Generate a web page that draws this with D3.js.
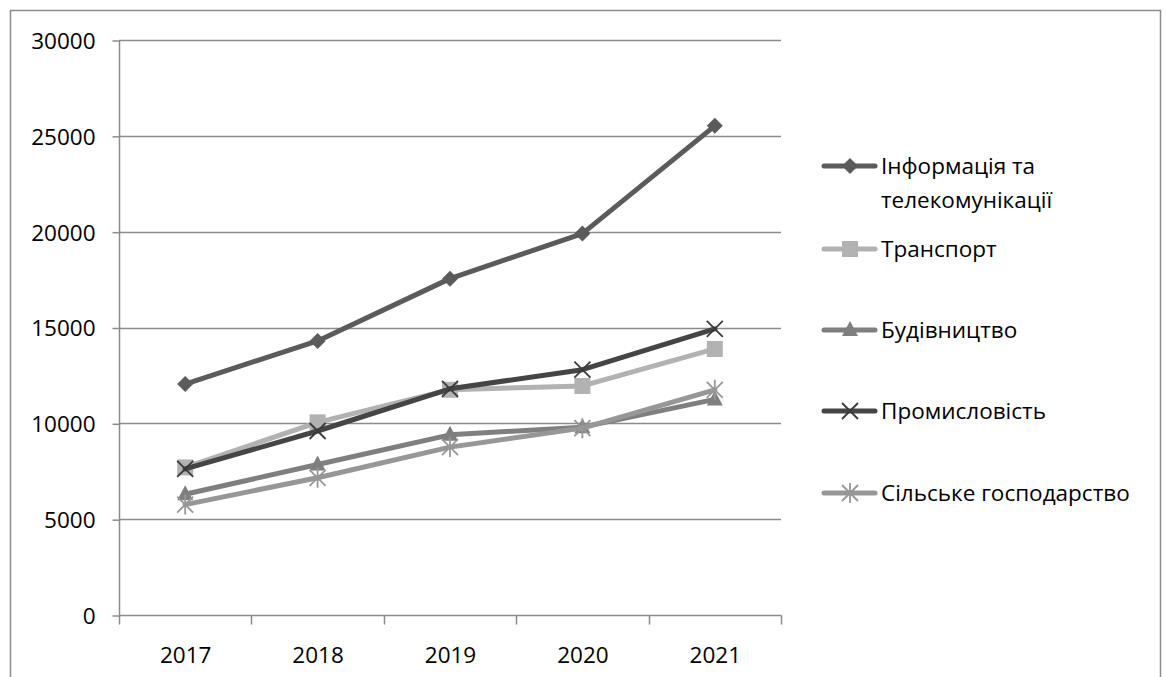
<!DOCTYPE html>
<html>
<head>
<meta charset="utf-8">
<script src="https://cdn.jsdelivr.net/npm/d3@7"></script>
<style>
  html, body { margin: 0; padding: 0; background: #fff; }
  svg { display: block; }
  text { font-family: "Open Sans", "Liberation Sans", sans-serif; fill: #000; }
</style>
</head>
<body>
<svg id="chart" width="1166" height="677"></svg>
<script>
// Years on the category axis
const years = ["2017", "2018", "2019", "2020", "2021"];

// Series values by year
const infoTelecom = [12050, 14300, 17550, 19900, 25520];
const transport   = [7700, 10050, 11750, 11950, 13880];
const construction = [6300, 7850, 9400, 9800, 11250];
const industry    = [7620, 9600, 11800, 12800, 14930];
const agriculture = [5760, 7160, 8760, 9750, 11750];

// Series names shown in the legend
const seriesNames = [
  ["Інформація та", "телекомунікації"],
  ["Транспорт"],
  ["Будівництво"],
  ["Промисловість"],
  ["Сільське господарство"]
];

// Y axis tick labels
const yTicks = [0, 5000, 10000, 15000, 20000, 25000, 30000];

const series = [
  { name: seriesNames[0], values: infoTelecom,  color: "#5b5b5b", marker: "diamond" },
  { name: seriesNames[1], values: transport,    color: "#b2b2b2", marker: "square" },
  { name: seriesNames[2], values: construction, color: "#7f7f7f", marker: "triangle" },
  { name: seriesNames[3], values: industry,     color: "#454545", marker: "x" },
  { name: seriesNames[4], values: agriculture,  color: "#979797", marker: "star" }
];

const fontSize = "22.5px";
const svg = d3.select("#chart");

// Outer chart frame
svg.append("rect")
  .attr("x", 10.5).attr("y", 10.5)
  .attr("width", 1150).attr("height", 700)
  .attr("fill", "none").attr("stroke", "#8c8c8c").attr("stroke-width", 1.5);

const plot = { left: 119, top: 40, right: 781, bottom: 615 };

const x = d3.scaleBand().domain(years).range([plot.left, plot.right]);
const y = d3.scaleLinear().domain([0, 30000]).range([plot.bottom, plot.top]);

// Horizontal gridlines
svg.append("g")
  .selectAll("line")
  .data(yTicks.filter(d => d > 0))
  .join("line")
  .attr("x1", plot.left).attr("x2", plot.right)
  .attr("y1", d => Math.round(y(d)) + 0.5).attr("y2", d => Math.round(y(d)) + 0.5)
  .attr("stroke", "#8c8c8c").attr("stroke-width", 1.5);

// Y axis
const yAxis = d3.axisLeft(y).tickValues(yTicks).tickSize(7).tickPadding(17).tickFormat(d3.format("d"));
const gy = svg.append("g").attr("transform", `translate(${plot.left + 0.5},0.5)`).call(yAxis);
gy.select(".domain").attr("stroke", "#8c8c8c").attr("stroke-width", 1.5).attr("d", `M0,${plot.top}V${plot.bottom}`);
gy.selectAll(".tick line").attr("stroke", "#8c8c8c").attr("stroke-width", 1.5);
gy.selectAll(".tick text").style("font-size", fontSize).attr("dy", "0.35em");

// X axis with ticks at category boundaries
const gx = svg.append("g").attr("transform", `translate(0.5,${plot.bottom + 0.5})`);
gx.append("line")
  .attr("x1", plot.left).attr("x2", plot.right)
  .attr("stroke", "#8c8c8c").attr("stroke-width", 1.5);
const boundaries = years.map(d => x(d)).concat([x(years[years.length - 1]) + x.bandwidth()]);
gx.selectAll("line.tk")
  .data(boundaries)
  .join("line")
  .attr("class", "tk")
  .attr("x1", d => Math.round(d)).attr("x2", d => Math.round(d))
  .attr("y1", 0).attr("y2", 9)
  .attr("stroke", "#8c8c8c").attr("stroke-width", 1.5);
gx.selectAll("text")
  .data(years)
  .join("text")
  .attr("x", d => x(d) + x.bandwidth() / 2)
  .attr("y", 47)
  .attr("text-anchor", "middle")
  .style("font-size", fontSize)
  .text(d => d);

// Marker shapes
function drawMarker(g, type, color, cx, cy) {
  if (type === "diamond") {
    g.append("path")
      .attr("d", `M${cx},${cy - 8}L${cx + 8},${cy}L${cx},${cy + 8}L${cx - 8},${cy}Z`)
      .attr("fill", color);
  } else if (type === "square") {
    g.append("rect")
      .attr("x", cx - 8).attr("y", cy - 8).attr("width", 16).attr("height", 16)
      .attr("fill", color);
  } else if (type === "triangle") {
    g.append("path")
      .attr("d", `M${cx},${cy - 9}L${cx + 8},${cy + 6}L${cx - 8},${cy + 6}Z`)
      .attr("fill", color);
  } else if (type === "x") {
    g.append("path")
      .attr("d", `M${cx - 8},${cy - 8}L${cx + 8},${cy + 8}M${cx - 8},${cy + 8}L${cx + 8},${cy - 8}`)
      .attr("stroke", "#3a3a3a").attr("stroke-width", 1.8).attr("fill", "none");
  } else if (type === "star") {
    g.append("path")
      .attr("d", `M${cx - 8},${cy - 8}L${cx + 8},${cy + 8}M${cx - 8},${cy + 8}L${cx + 8},${cy - 8}M${cx},${cy - 10}V${cy + 10}`)
      .attr("stroke", color).attr("stroke-width", 1.8).attr("fill", "none");
  }
}

const line = d3.line()
  .x((d, i) => x(years[i]) + x.bandwidth() / 2)
  .y(d => y(d));

const linesG = svg.append("g");
series.forEach(s => {
  const g = linesG.append("g");
  g.append("path")
    .datum(s.values)
    .attr("d", line)
    .attr("fill", "none")
    .attr("stroke", s.color)
    .attr("stroke-width", 5)
    .attr("stroke-linejoin", "round")
    .attr("stroke-linecap", "round");
  s.values.forEach((v, i) => {
    drawMarker(g, s.marker, s.color, x(years[i]) + x.bandwidth() / 2, y(v));
  });
});

// Legend
const legendRows = [166, 249, 330, 411, 493];
const legend = svg.append("g");
series.forEach((s, i) => {
  const cy = legendRows[i];
  const g = legend.append("g");
  g.append("line")
    .attr("x1", 824).attr("x2", 875).attr("y1", cy).attr("y2", cy)
    .attr("stroke", s.color).attr("stroke-width", 5).attr("stroke-linecap", "round");
  drawMarker(g, s.marker, s.color, 850, cy);
  s.name.forEach((part, j) => {
    g.append("text")
      .attr("x", 881).attr("y", cy + j * 34)
      .attr("dy", "0.35em")
      .style("font-size", fontSize)
      .text(part);
  });
});
</script>
</body>
</html>
